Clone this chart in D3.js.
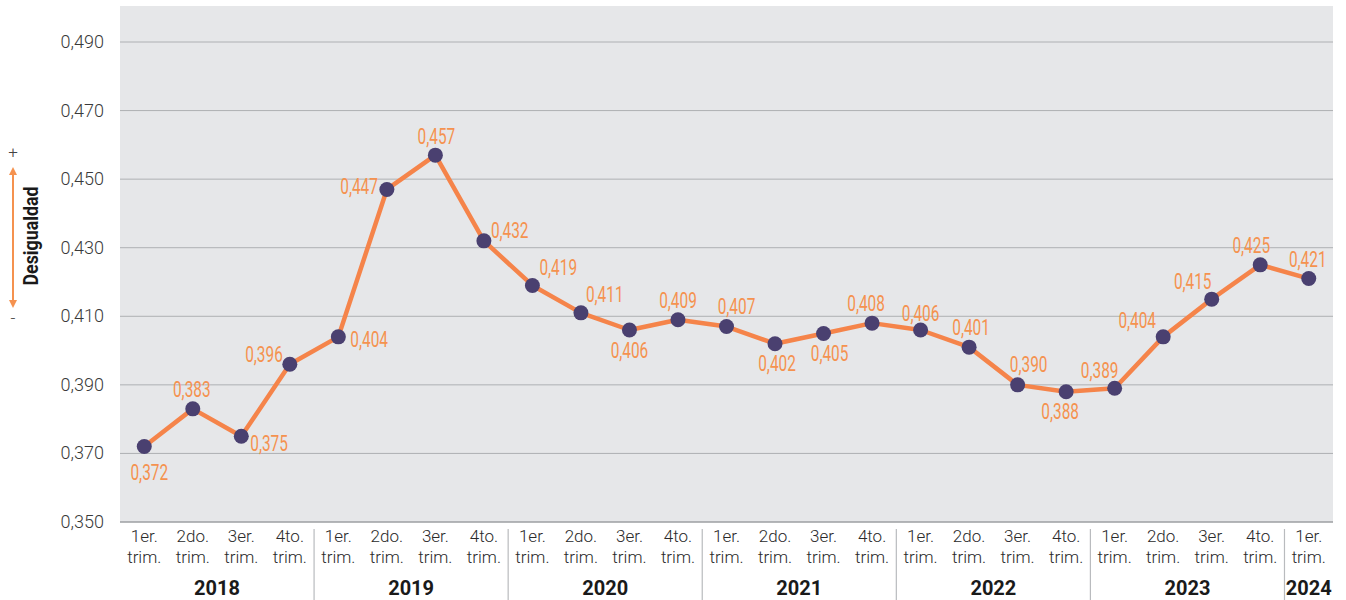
<!DOCTYPE html>
<html lang="es">
<head>
<meta charset="utf-8">
<title>Desigualdad trimestral</title>
<script src="https://d3js.org/d3.v7.min.js"></script>
<style>
  body { margin: 0; background: #fff; }
  svg { display: block; font-family: Roboto, "Open Sans", sans-serif; }
  .ylab { font-size: 18px; font-weight: 300; fill: #3a3a3a; }
  .qlab { font-size: 17px; font-weight: 300; fill: #2a2a2a; }
  .year { font-size: 20px; font-weight: bold; fill: #1a1a1a; }
  .val { font-size: 22px; fill: #f5924f; }
</style>
</head>
<body>
<div id="chart"></div>
<script>
// data
var years = ['2018', '2019', '2020', '2021', '2022', '2023', '2024'];
var quarters = ['1er.', '2do.', '3er.', '4to.'];
var yearQuarters = [4, 4, 4, 4, 4, 4, 1];
var values = [0.372, 0.383, 0.375, 0.396,
              0.404, 0.447, 0.457, 0.432,
              0.419, 0.411, 0.406, 0.409,
              0.407, 0.402, 0.405, 0.408,
              0.406, 0.401, 0.390, 0.388,
              0.389, 0.404, 0.415, 0.425,
              0.421];
var yTicks = [0.350, 0.370, 0.390, 0.410, 0.430, 0.450, 0.470, 0.490];

// label placement (dx, dy from point, anchor)
var labelPos = [
  [5, 33, 'middle'], [-1, -12, 'middle'], [9, 15, 'start'], [-7, -2, 'end'],
  [12, 10, 'start'], [-9, 5, 'end'], [1, -11, 'middle'], [7, -3, 'start'],
  [7, -10, 'start'], [5, -11, 'start'], [0, 28, 'middle'], [0, -12, 'middle'],
  [10, -13, 'middle'], [2, 27, 'middle'], [6, 28, 'middle'], [-6, -12, 'middle'],
  [0, -9, 'middle'], [2, -12, 'middle'], [11, -13, 'middle'], [-6, 27, 'middle'],
  [-15, -10, 'middle'], [-26, -9, 'middle'], [-19, -10, 'middle'], [-9, -12, 'middle'],
  [-1, -12, 'middle']
];

var W = 1346, H = 600;
var x0 = 120, x1 = 1333, yTop = 6, yBot = 522;
var narrow = 0.7;

var svg = d3.select('#chart').append('svg')
  .attr('width', W).attr('height', H);

var labels = [];
years.forEach(function (yr, i) {
  for (var q = 0; q < yearQuarters[i]; q++) labels.push(yr + '-' + q);
});

var x = d3.scaleBand().domain(labels).range([x0, x1]);
var y = d3.scaleLinear().domain([0.35, 0.5005]).range([yBot, yTop]);
var cx = function (i) { return x(labels[i]) + x.bandwidth() / 2; };

// plot background
svg.append('rect')
  .attr('x', x0).attr('y', yTop)
  .attr('width', x1 - x0).attr('height', yBot - yTop)
  .attr('fill', '#e6e7e9');

// gridlines
svg.append('g').selectAll('line')
  .data(yTicks)
  .enter().append('line')
  .attr('x1', x0).attr('x2', x1)
  .attr('y1', function (d) { return y(d); })
  .attr('y2', function (d) { return y(d); })
  .attr('stroke', function (d) { return d === 0.35 ? '#9d9fa2' : '#aeb0b3'; })
  .attr('stroke-width', function (d) { return d === 0.35 ? 1.5 : 1; });

// y tick labels
svg.append('g').selectAll('text')
  .data(yTicks)
  .enter().append('text')
  .attr('class', 'ylab')
  .attr('x', 104)
  .attr('y', function (d) { return y(d) + 6; })
  .attr('text-anchor', 'end')
  .text(function (d) { return d3.format('.3f')(d).replace('.', ','); });

// y axis title + arrow
var defs = svg.append('defs');
defs.append('marker')
  .attr('id', 'arr').attr('viewBox', '0 0 10 10')
  .attr('refX', 5).attr('refY', 5)
  .attr('markerWidth', 4).attr('markerHeight', 4)
  .attr('orient', 'auto-start-reverse')
  .append('path').attr('d', 'M0,0 L10,5 L0,10 z').attr('fill', '#f5924f');

svg.append('line')
  .attr('x1', 13).attr('x2', 13).attr('y1', 171).attr('y2', 304)
  .attr('stroke', '#f5924f').attr('stroke-width', 2)
  .attr('marker-start', 'url(#arr)').attr('marker-end', 'url(#arr)');
svg.append('text').attr('x', 13).attr('y', 158).attr('text-anchor', 'middle')
  .style('font-size', '17px').style('font-weight', 300).style('fill', '#444').text('+');
svg.append('text').attr('x', 13).attr('y', 324).attr('text-anchor', 'middle')
  .style('font-size', '17px').style('font-weight', 300).style('fill', '#444').text('-');
svg.append('text')
  .attr('transform', 'translate(38,236) rotate(-90) scale(0.85,1)')
  .attr('text-anchor', 'middle')
  .style('font-size', '21px').style('font-weight', 'bold').style('fill', '#1a1a1a')
  .text('Desigualdad');

// quarter labels
var qg = svg.append('g');
labels.forEach(function (l, i) {
  var q = +l.split('-')[1];
  var t = qg.append('text').attr('class', 'qlab')
    .attr('x', cx(i)).attr('text-anchor', 'middle');
  t.append('tspan').attr('x', cx(i)).attr('y', 542).text(quarters[q]);
  t.append('tspan').attr('x', cx(i)).attr('y', 563).text('trim.');
});

// year labels and separators
var start = 0;
years.forEach(function (yr, i) {
  var a = x(labels[start]);
  var b = x(labels[start + yearQuarters[i] - 1]) + x.bandwidth();
  svg.append('text').attr('class', 'year')
    .attr('x', (a + b) / 2).attr('y', 595)
    .attr('text-anchor', 'middle').text(yr);
  if (i > 0) {
    svg.append('line')
      .attr('x1', a).attr('x2', a).attr('y1', 529).attr('y2', 600)
      .attr('stroke', '#b9bbbe').attr('stroke-width', 1.2);
  }
  start += yearQuarters[i];
});

// line
var line = d3.line()
  .x(function (d, i) { return cx(i); })
  .y(function (d) { return y(d); });
svg.append('path')
  .datum(values)
  .attr('d', line)
  .attr('fill', 'none')
  .attr('stroke', '#f5844a')
  .attr('stroke-width', 4.5)
  .attr('stroke-linejoin', 'round');

// dots
svg.append('g').selectAll('circle')
  .data(values)
  .enter().append('circle')
  .attr('cx', function (d, i) { return cx(i); })
  .attr('cy', function (d) { return y(d); })
  .attr('r', 7.5)
  .attr('fill', '#4a4070');

// value labels (condensed by horizontal scaling)
svg.append('g').selectAll('text')
  .data(values)
  .enter().append('text')
  .attr('class', 'val')
  .attr('transform', function (d, i) {
    return 'translate(' + (cx(i) + labelPos[i][0]) + ',' + (y(d) + labelPos[i][1]) + ') scale(' + narrow + ',1)';
  })
  .attr('text-anchor', function (d, i) { return labelPos[i][2]; })
  .text(function (d) { return d3.format('.3f')(d).replace('.', ','); });
</script>
</body>
</html>
